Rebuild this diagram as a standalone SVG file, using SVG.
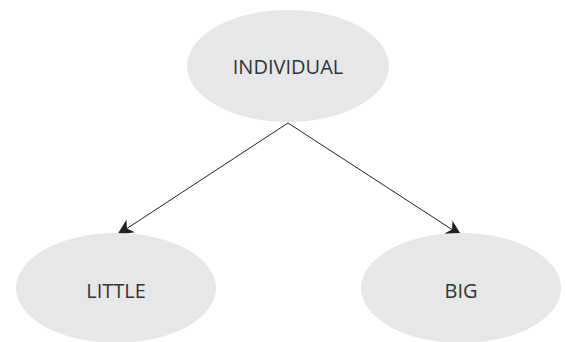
<svg xmlns="http://www.w3.org/2000/svg" width="566" height="342" viewBox="0 0 566 342">
<style>
.node ellipse{fill:#e6e7e8;}
.node text{font-family:"Open Sans","Noto Sans","Liberation Sans",sans-serif;font-size:20px;fill:#333333;text-anchor:middle;}
.edge{stroke:#231f20;stroke-width:1;fill:none;marker-end:url(#arr);}
</style>
<defs>
<marker id="arr" markerUnits="userSpaceOnUse" markerWidth="20" markerHeight="20" viewBox="-14 -7 16 14" refX="0" refY="0" orient="auto">
<path d="M0,0 L-13,-6 L-9.5,0 L-13,6 Z" fill="#231f20"/>
</marker>
</defs>
<rect width="566" height="342" fill="#ffffff"/>
<g id="connectors">
<line class="edge" x1="288" y1="123" x2="117" y2="235"/>
<line class="edge" x1="288" y1="123" x2="462" y2="236"/>
</g>
<g id="node-individual" class="node">
<ellipse cx="288" cy="66" rx="101" ry="56"/>
<text x="288" y="74">INDIVIDUAL</text>
</g>
<g id="node-little" class="node">
<ellipse cx="116" cy="288" rx="100" ry="55"/>
<text x="116" y="298">LITTLE</text>
</g>
<g id="node-big" class="node">
<ellipse cx="461" cy="288" rx="100" ry="55"/>
<text x="461" y="298">BIG</text>
</g>
</svg>
